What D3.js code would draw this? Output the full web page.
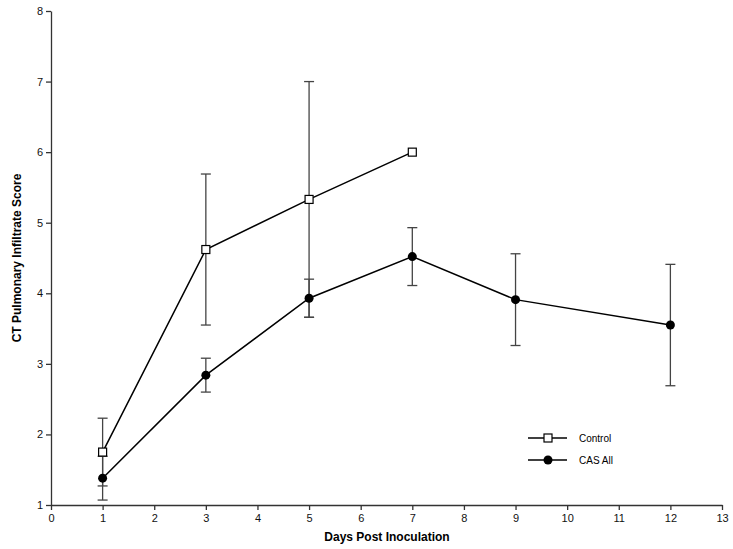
<!DOCTYPE html>
<html><head><meta charset="utf-8">
<script src="https://cdn.jsdelivr.net/npm/d3@7"></script>
<style>body{margin:0;background:#fff}text{font-family:"Liberation Sans",Arial,sans-serif}</style>
</head><body>
<svg id="c" width="733" height="549"></svg>
<script>
const controlDays = [1, 3, 5, 7];
const controlMean = [1.75, 4.62, 5.33, 6.0];
const controlErr  = [0.48, 1.07, 1.67, 0];
const casDays = [1, 3, 5, 7, 9, 12];
const casMean = [1.38, 2.84, 3.93, 4.52, 3.91, 3.55];
const casErr  = [0.31, 0.24, 0.27, 0.41, 0.65, 0.86];
const xTicks = d3.range(0, 14);
const yTicks = d3.range(1, 9);

const svg = d3.select("#c");
const x = d3.scaleLinear().domain([0, 13]).range([51, 722]);
const y = d3.scaleLinear().domain([1, 8]).range([505, 11]);

const xa = svg.append("g").attr("transform", "translate(0,505)")
  .call(d3.axisBottom(x).tickValues(xTicks).tickFormat(d3.format("d")).tickSize(5).tickSizeOuter(0).tickPadding(4));
const ya = svg.append("g").attr("transform", "translate(51,0)")
  .call(d3.axisLeft(y).tickValues(yTicks).tickFormat(d3.format("d")).tickSize(5).tickSizeOuter(0).tickPadding(3));
[xa, ya].forEach(a => {
  a.selectAll("path,line").attr("stroke", "#333").attr("stroke-width", 1.3);
  a.selectAll("text").attr("font-size", 11).attr("fill", "#111");
});

svg.append("text").attr("x", 387).attr("y", 541).attr("text-anchor", "middle")
  .attr("font-size", 12).attr("font-weight", "bold").text("Days Post Inoculation");
svg.append("text").attr("transform", "translate(21,258) rotate(-90)").attr("text-anchor", "middle")
  .attr("font-size", 12).attr("font-weight", "bold").text("CT Pulmonary Infiltrate Score");

function errBars(days, mean, err) {
  const g = svg.append("g").attr("stroke", "#444").attr("stroke-width", 1.3);
  days.forEach((d, i) => {
    if (!err[i]) return;
    const cx = x(d), y1 = y(mean[i] + err[i]), y0 = y(mean[i] - err[i]);
    g.append("line").attr("x1", cx).attr("x2", cx).attr("y1", y1).attr("y2", y0);
    g.append("line").attr("x1", cx - 5).attr("x2", cx + 5).attr("y1", y1).attr("y2", y1);
    g.append("line").attr("x1", cx - 5).attr("x2", cx + 5).attr("y1", y0).attr("y2", y0);
  });
}
errBars(controlDays, controlMean, controlErr);
errBars(casDays, casMean, casErr);

const line = d3.line().x(d => x(d[0])).y(d => y(d[1]));
const ctrlPts = controlDays.map((d, i) => [d, controlMean[i]]);
const casPts = casDays.map((d, i) => [d, casMean[i]]);
svg.append("path").attr("d", line(ctrlPts)).attr("fill", "none").attr("stroke", "#000").attr("stroke-width", 1.5);
svg.append("path").attr("d", line(casPts)).attr("fill", "none").attr("stroke", "#000").attr("stroke-width", 1.5);

svg.selectAll(".sq").data(ctrlPts).enter().append("rect")
  .attr("x", d => x(d[0]) - 4).attr("y", d => y(d[1]) - 4).attr("width", 8).attr("height", 8)
  .attr("fill", "#fff").attr("stroke", "#000").attr("stroke-width", 1.2);
svg.selectAll(".ci").data(casPts).enter().append("circle")
  .attr("cx", d => x(d[0])).attr("cy", d => y(d[1])).attr("r", 4.5).attr("fill", "#000");

// legend
const lg = svg.append("g");
[["Control", "sq"], ["CAS All", "ci"]].forEach((item, i) => {
  const ly = 438 + i * 22;
  lg.append("line").attr("x1", 528).attr("x2", 567).attr("y1", ly).attr("y2", ly).attr("stroke", "#000").attr("stroke-width", 1.5);
  if (item[1] === "sq") lg.append("rect").attr("x", 544).attr("y", ly - 4).attr("width", 8).attr("height", 8).attr("fill", "#fff").attr("stroke", "#000").attr("stroke-width", 1.2);
  else lg.append("circle").attr("cx", 548).attr("cy", ly).attr("r", 4.5).attr("fill", "#000");
  lg.append("text").attr("x", 579).attr("y", ly + 4).attr("font-size", 10).text(item[0]);
});
</script>
</body></html>
